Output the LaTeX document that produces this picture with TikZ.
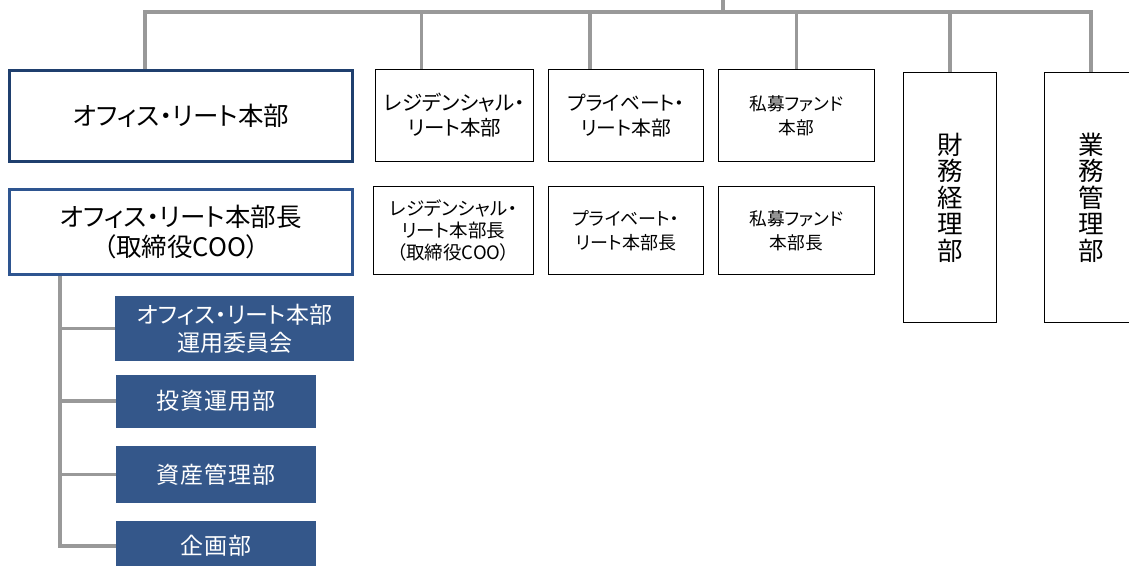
\documentclass[tikz,border=0pt]{standalone}
\usepackage{fontspec}
\setmainfont[RawFeature=+palt]{Noto Sans CJK JP}
\usepackage{tikz}
\definecolor{navy}{HTML}{1F3F6E}
\definecolor{steel}{HTML}{2E5590}
\definecolor{unitblue}{HTML}{34578A}
\definecolor{linegray}{HTML}{999999}

\begin{document}
\begin{tikzpicture}[
  x=1pt, y=-1pt,
  hq/.style={rectangle, draw=navy, line width=3pt, fill=white, minimum width=343pt, minimum height=91pt, inner sep=0pt, align=center, font=\fontsize{25.5}{30}\selectfont},
  chief/.style={hq, draw=steel, minimum height=85pt},
  unit/.style={rectangle, draw=black, line width=1.5pt, fill=white, minimum width=156pt, minimum height=92pt, inner sep=0pt, align=center, font=\fontsize{20.5}{25}\selectfont},
  head/.style={unit, minimum height=88pt, font=\fontsize{18}{24}\selectfont},
  dept/.style={unit, minimum width=93pt, minimum height=250pt, font=\fontsize{25.5}{26.5}\selectfont},
  team/.style={rectangle, fill=unitblue, text=white, minimum width=200pt, minimum height=53pt, inner sep=0pt, align=center, font=\fontsize{23}{28}\selectfont\addfontfeature{LetterSpace=5}},
  branch/.style={draw=linegray, line width=3.5pt}
]
  \useasboundingbox (0,0) rectangle (1129,565);

  \node[hq] (office) at (181,116) {オフィス・リート本部};
  \node[chief] (officehead) at (181,232) {オフィス・リート本部長\\（取締役COO）};

  \node[unit, minimum width=158pt] (resi) at (454.5,115.5) {レジデンシャル・\\リート本部};
  \node[unit, minimum width=155pt, font=\fontsize{19.8}{25}\selectfont] (priv) at (626,115.5) {プライベート・\\リート本部};
  \node[unit, font=\fontsize{17.7}{24}\selectfont] (fund) at (796.5,115.5) {私募ファンド\\本部};

  \node[head, minimum width=160pt, font=\fontsize{18.5}{22}\selectfont] (resihead) at (453.5,230.5) {レジデンシャル・\\リート本部長\\（取締役COO）};
  \node[head, minimum width=155pt] (privhead) at (626,230.5) {プライベート・\\リート本部長};
  \node[head, font=\fontsize{17.7}{24}\selectfont] (fundhead) at (796.5,230.5) {私募ファンド\\本部長};

  \node[dept] (finance) at (950,197.5) {財\\務\\経\\理\\部};
  \node[dept] (admin) at (1091,197.5) {業\\務\\管\\理\\部};

  \node[team, minimum width=239pt, minimum height=65pt, font=\fontsize{23}{28}\selectfont] (committee) at (234.5,328.5) {オフィス・リート本部\\運用委員会};
  \node[team] (invest) at (216,401) {投資運用部};
  \node[team, minimum height=57pt] (asset) at (216,474.5) {資産管理部};
  \node[team, minimum height=50pt] (plan) at (216,546) {企画部};

  \coordinate (root) at (723,0);
  \coordinate (bus) at (723,12);
  \draw[branch] (root) -- (bus);
  \draw[branch] ([xshift=-36pt]office.north) |- (bus) -| (admin.north);
  \draw[branch] ([xshift=-33pt]resi.north) -- ([xshift=-33pt]resi.north |- bus);
  \draw[branch] ([xshift=-36pt]priv.north) -- ([xshift=-36pt]priv.north |- bus);
  \draw[branch] (fund.north) -- (fund.north |- bus);
  \draw[branch] (finance.north) -- (finance.north |- bus);

  \coordinate (trunk) at ([xshift=-121pt]officehead.south);
  \draw[branch] (trunk) |- (plan.west);
  \foreach \t in {committee, invest, asset}
    \draw[branch] (trunk |- \t.west) -- (\t.west);
\end{tikzpicture}
\end{document}
